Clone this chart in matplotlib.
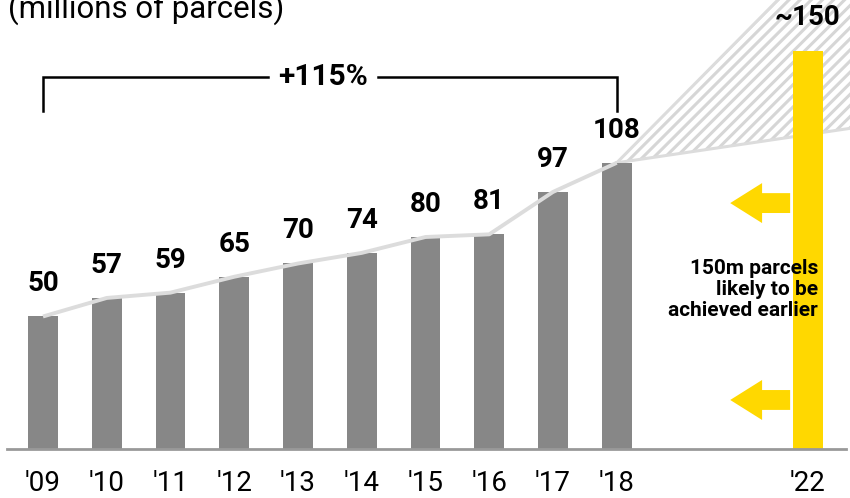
import matplotlib
matplotlib.use("Agg")
import matplotlib.pyplot as plt
from matplotlib.patches import FancyArrow

plt.rcParams["font.family"] = ["Roboto", "DejaVu Sans"]
plt.rcParams["hatch.linewidth"] = 2.2

# Parcel volumes (millions)
years = ["'09", "'10", "'11", "'12", "'13", "'14", "'15", "'16", "'17", "'18"]
volumes = [50, 57, 59, 65, 70, 74, 80, 81, 97, 108]
target_label = "'22"
target_value = 150
target_text = "~150"

# Projection fan from 2018 onwards (low and high trajectory at the right edge)
proj_x = [9, 12.66]
proj_low = [108, 121]
proj_high = [108, 197]

GREY = "#878787"
YELLOW = "#FFD800"
TREND = "#dcdcdc"

fig = plt.figure(figsize=(8.5, 4.98), dpi=100)
ax = fig.add_axes([0, 0, 1, 1])
ax.set_xlim(-0.6745, 12.659)
ax.set_ylim(-18.49, 169.43)
ax.axis("off")

x = list(range(len(years)))
x_target = len(years) + 2

# hatched projection area
ax.fill_between(proj_x, proj_low, proj_high, facecolor="none",
                edgecolor="#d6d6d6", hatch="///", linewidth=0, zorder=1)
ax.plot(proj_x, proj_low, color=TREND, lw=2.2, zorder=2)
ax.plot(proj_x, proj_high, color=TREND, lw=2.2, zorder=2)

# bars
ax.bar(x, volumes, width=0.47, color=GREY, zorder=3)
ax.bar([x_target], [target_value], width=0.47, color=YELLOW, zorder=3)

# trend line through bar tops
ax.plot(x, volumes, color=TREND, lw=2.8, zorder=4, solid_capstyle="butt")

# baseline
ax.plot([-0.56, 12.59], [0, 0], color="#999999", lw=2.0, zorder=5)

# value labels
for xi, v in zip(x, volumes):
    ax.text(xi, v + 12.3, str(v), ha="center", va="center",
            fontsize=20, fontweight="bold", color="black", zorder=6)
ax.text(x_target, target_value + 12.8, target_text, ha="center", va="center",
        fontsize=20, fontweight="bold", color="black", zorder=6)

# year labels
for xi, lab in zip(x + [x_target], years + [target_label]):
    ax.text(xi, -18.1, lab, ha="center", va="bottom", fontsize=20,
            color="black")

# unit label
ax.text(-0.55, 162.6, "(millions of parcels)", ha="left", va="baseline",
        fontsize=22.5, color="black")

# growth bracket
br_y = 140.5
ax.plot([0, 0, 3.53], [127.5, br_y, br_y], color="black", lw=1.8,
        solid_joinstyle="miter")
ax.plot([5.25, 9, 9], [br_y, br_y, 127.5], color="black", lw=1.8,
        solid_joinstyle="miter")
ax.text(4.39, br_y, "+115%", ha="center", va="center", fontsize=21.5,
        fontweight="bold", color="black")

# arrows pointing earlier
for yc in [92.8, 18.5]:
    ax.add_patch(FancyArrow(11.72, yc, -0.94, 0, width=7.5, head_width=15.1,
                            head_length=0.5, length_includes_head=True,
                            color=YELLOW, lw=0, zorder=5))

ax.text(12.16, 60.3, "150m parcels\nlikely to be\nachieved earlier",
        ha="right", va="center", fontsize=15, fontweight="bold",
        linespacing=1.12, color="black", zorder=7)

fig.savefig("out.png", dpi=100)
